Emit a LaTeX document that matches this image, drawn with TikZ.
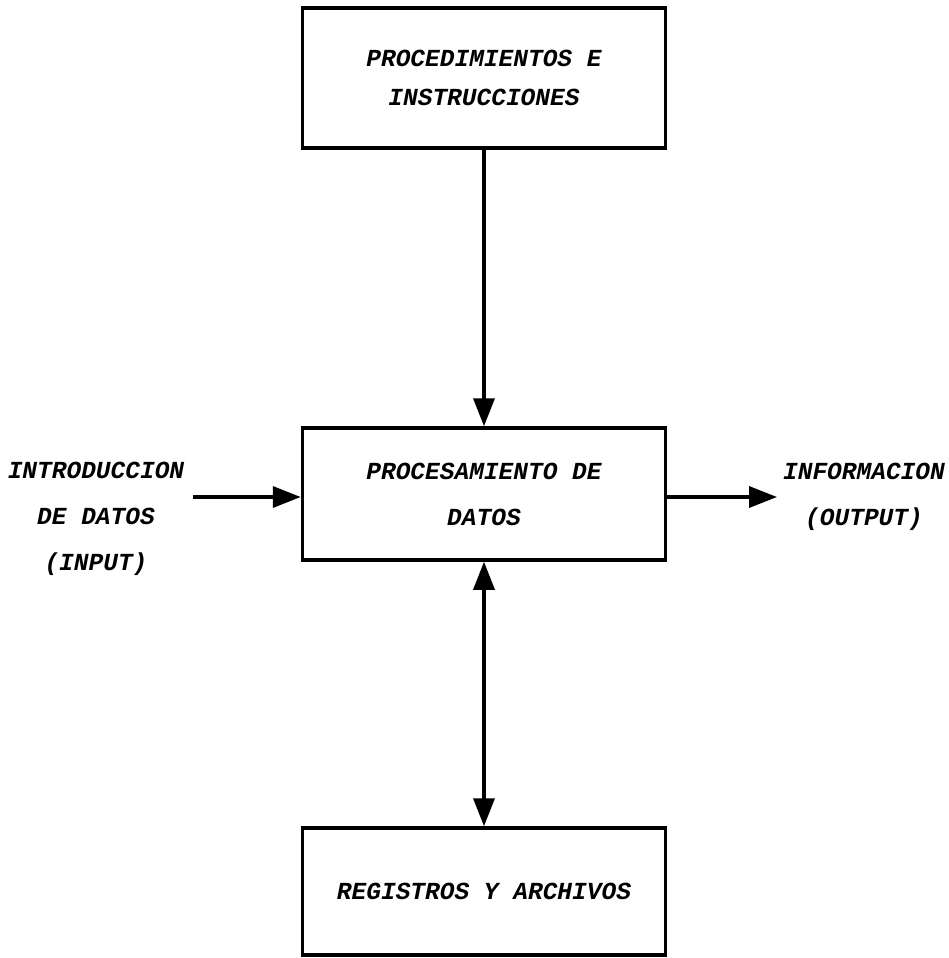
\documentclass[tikz,border=0pt]{standalone}
\usepackage{fontspec}
\setmonofont{Liberation Mono}
\usetikzlibrary{arrows.meta}

\begin{document}
\begin{tikzpicture}[
	x=1pt, y=-1pt,
	box/.style={draw, line width=3.5pt, align=center, minimum width=363pt, inner sep=0pt,
		font=\ttfamily\bfseries\itshape\fontsize{24.5}{46}\selectfont},
	tag/.style={align=center, inner sep=0pt, font=\ttfamily\bfseries\itshape\fontsize{24.5}{46}\selectfont},
	edge/.style={-{Triangle[width=21pt, length=28pt]}, line width=3.5pt},
	both/.style={{Triangle[width=21pt, length=28pt]}-{Triangle[width=21pt, length=28pt]}, line width=3.5pt}
]
\useasboundingbox (0,0) rectangle (949,958);

% Boxes
\node[box, minimum height=140pt, font=\ttfamily\bfseries\itshape\fontsize{24.5}{39}\selectfont] (proc) at (484, 78) {PROCEDIMIENTOS E\\INSTRUCCIONES};
\node[box, minimum height=132pt] (datos) at (484, 494) {PROCESAMIENTO DE\\DATOS};
\node[box, minimum height=127pt] (regs) at (484, 891.5) {REGISTROS Y ARCHIVOS};

% Side labels
\node[tag] (input) at (96, 519) {INTRODUCCION\\DE DATOS\\(INPUT)};
\node[tag] (output) at (864, 497) {INFORMACION\\(OUTPUT)};
\coordinate (inl) at (193, 497);
\coordinate (outr) at (777, 497);

% Edges
\draw[edge] (proc.south) -- (datos.north);
\draw[both] (datos.south) -- (regs.north);
\draw[edge] (inl) -- (datos.west |- inl);
\draw[edge] (datos.east |- outr) -- (outr);

\end{tikzpicture}
\end{document}
